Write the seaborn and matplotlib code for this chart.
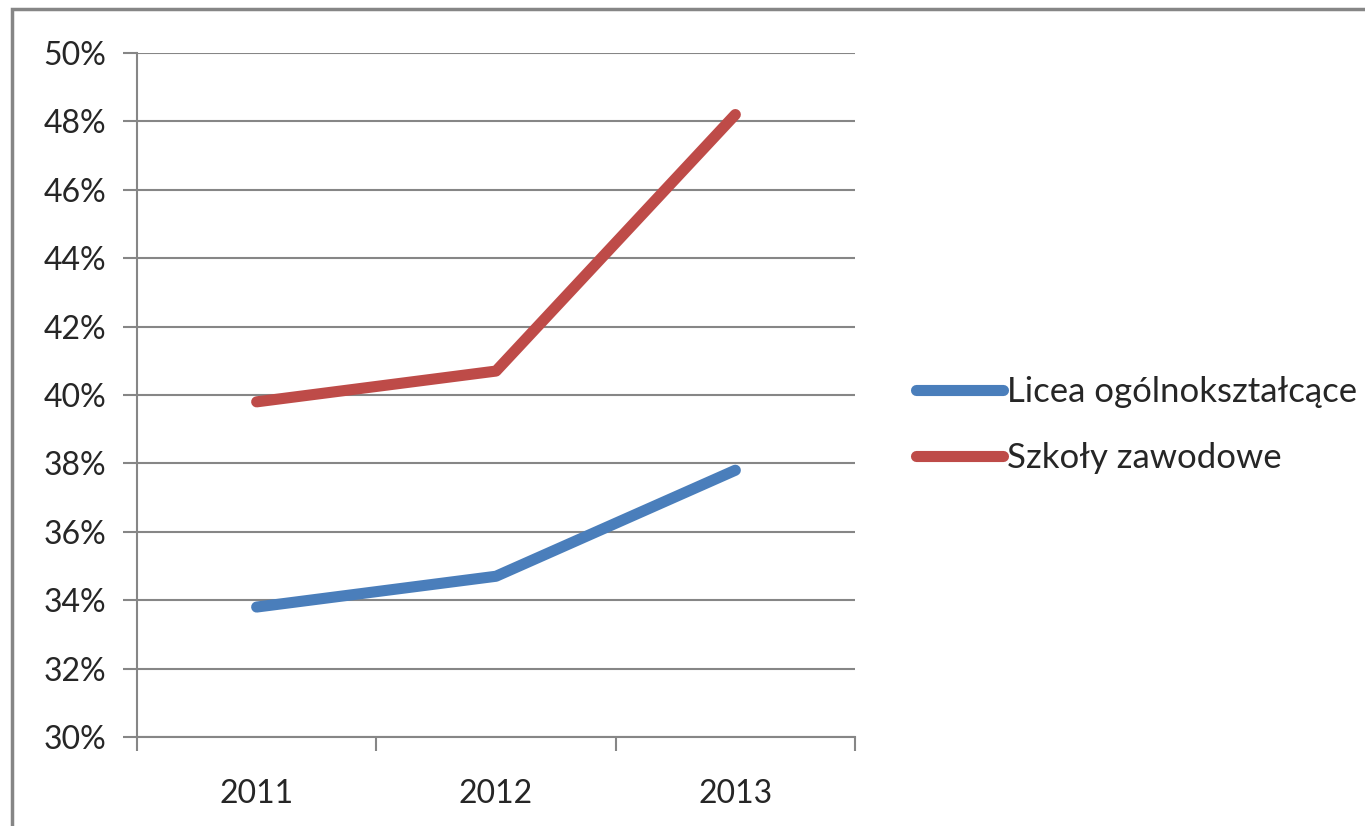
import numpy as np
import pandas as pd
import matplotlib.pyplot as plt
import matplotlib.ticker as mtick
import seaborn as sns

sns.set_style('white')
plt.rcParams['font.family'] = ['Lato', 'DejaVu Sans']

# dane
lata = ['2011', '2012', '2013']
licea = [33.8, 34.7, 37.8]
zawodowe = [39.8, 40.7, 48.2]
serie = ['Licea ogólnokształcące', 'Szkoły zawodowe']
kolory = ['#4a7ebb', '#be4b48']

df = pd.DataFrame({'rok': lata * 2,
                   'wartosc': licea + zawodowe,
                   'seria': [serie[0]] * 3 + [serie[1]] * 3})
df['x'] = df['rok'].map({r: i for i, r in enumerate(lata)})

fig = plt.figure(figsize=(13.65, 8.26), dpi=100)
ax = fig.add_axes([137/1365, 1 - 737/826, (855-137)/1365, (737-53)/826])

sns.lineplot(data=df, x='x', y='wartosc', hue='seria', palette=kolory,
             linewidth=8, solid_capstyle='round', ax=ax, legend=True)

ax.set_xlim(-0.5, 2.5)
ax.set_ylim(30, 50)
ax.set_yticks(np.arange(30, 51, 2))
ax.yaxis.set_major_formatter(mtick.FormatStrFormatter('%d%%'))
ax.set_xticks([-0.5, 0.5, 1.5, 2.5])
ax.set_xticklabels([])
ax.set_xticks([0, 1, 2], minor=True)
ax.set_xticklabels(lata, minor=True)
ax.tick_params(axis='x', which='minor', bottom=True, length=0, labelsize=23, pad=30)
ax.tick_params(axis='x', which='major', bottom=True, length=10, width=1.5,
               color='#868686', direction='out')
ax.tick_params(axis='y', left=True, length=10, width=1.5, color='#868686',
               labelsize=23, pad=12)
ax.set_xlabel('')
ax.set_ylabel('')
ax.grid(axis='y', color='#868686', linewidth=1.5)
ax.set_axisbelow(True)
for s in ['top', 'right']:
    ax.spines[s].set_visible(False)
for s in ['left', 'bottom']:
    ax.spines[s].set_color('#868686')
    ax.spines[s].set_linewidth(1.5)

leg = ax.legend(loc='center left', bbox_to_anchor=(1.042, 0.456), frameon=False,
                fontsize=25, handlelength=2.5, handletextpad=0.1, labelspacing=1.0)
for l in leg.get_lines():
    l.set_linewidth(8)
    l.set_solid_capstyle('round')

# ramka wokół wykresu
fig.patches.append(plt.Rectangle((12/1365, -0.01), 1.5, 1 - 9/826 + 0.01,
                                 transform=fig.transFigure, fill=False,
                                 edgecolor='#868686', linewidth=2.5))

fig.savefig('out.png', dpi=100)
